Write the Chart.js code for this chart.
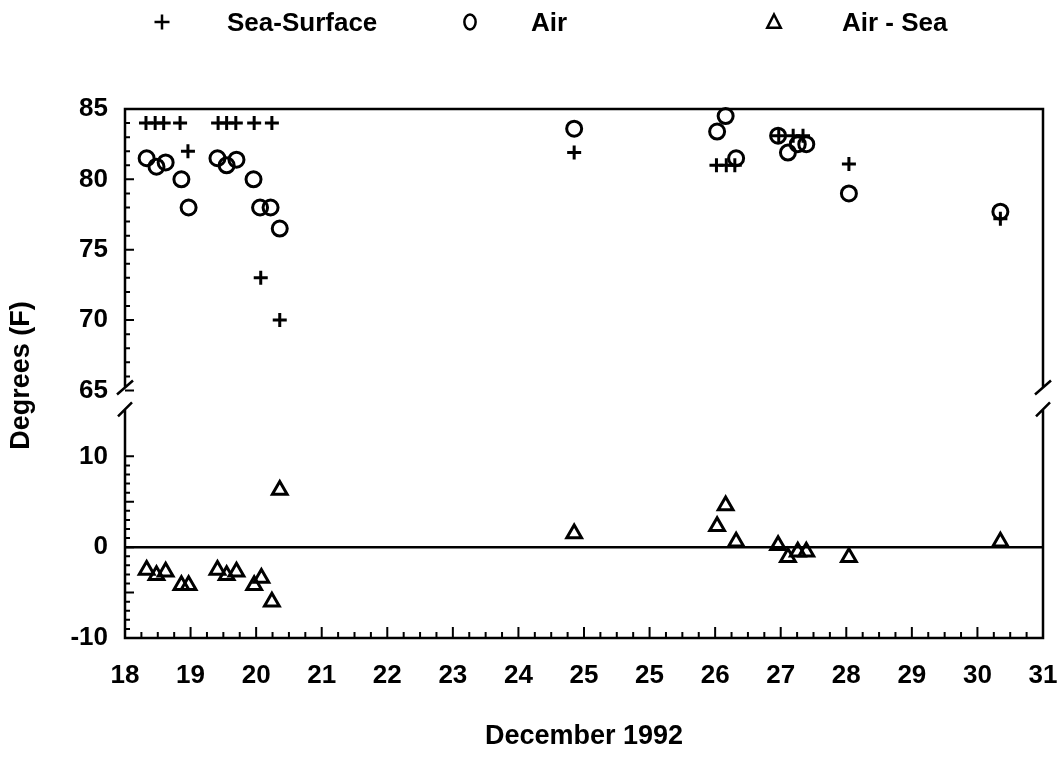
<!DOCTYPE html>
<html>
<head>
<meta charset="utf-8">
<title>Sea-Surface and Air Temperature, December 1992</title>
<script src="https://cdn.jsdelivr.net/npm/chart.js@4.4.1/dist/chart.umd.min.js"></script>
<style>
  html, body { margin: 0; padding: 0; background: #fff; }
  canvas { display: block; }
</style>
</head>
<body>
<canvas id="grafico" width="1058" height="758"></canvas>
<script>
// printed x labels (the original axis really shows "25" twice)
var xLabels = ['18', '19', '20', '21', '22', '23', '24', '25', '25', '26', '27', '28', '29', '30', '31'];
var upperTicks = [65, 70, 75, 80, 85];
var lowerTicks = [-10, -5, 0, 5, 10];

// x = position along the printed axis (0 = "18", 1 = "19", ...)
var seaX = [0.32, 0.46, 0.59, 0.84, 0.96, 1.42, 1.55, 1.69, 1.97, 2.07, 2.24, 2.36, 6.85, 9.02, 9.17, 9.30, 9.97, 10.19, 10.34, 11.04, 13.35];
var seaY = [84, 84, 84, 84, 82, 84, 84, 84, 84, 73, 84, 70, 81.9, 81, 81, 81, 83.1, 83.1, 83.1, 81.1, 77.2];

var airX = [0.33, 0.48, 0.62, 0.86, 0.97, 1.41, 1.55, 1.70, 1.96, 2.06, 2.22, 2.36, 6.85, 9.03, 9.16, 9.32, 9.96, 10.11, 10.26, 10.39, 11.04, 13.35];
var airY = [81.5, 80.9, 81.2, 80.0, 78.0, 81.5, 81.0, 81.4, 80.0, 78.0, 78.0, 76.5, 83.6, 83.4, 84.5, 81.5, 83.1, 81.9, 82.5, 82.5, 79.0, 77.7];

var diffX = [0.33, 0.48, 0.62, 0.86, 0.97, 1.41, 1.55, 1.70, 1.97, 2.08, 2.24, 2.36, 6.85, 9.03, 9.16, 9.32, 9.96, 10.11, 10.26, 10.39, 11.04, 13.35];
var diffY = [-2.5, -3.1, -2.7, -4.2, -4.2, -2.5, -3.1, -2.7, -4.2, -3.4, -6.0, 6.3, 1.5, 2.3, 4.6, 0.6, 0.2, -1.1, -0.5, -0.5, -1.1, 0.6];

function pares(xs, ys) {
    var out = [];
    for (var i = 0; i < xs.length; i++) out.push({ x: xs[i], y: ys[i] });
    return out;
}

// little hand drawn markers for the legend row
function marca(ctx, estilo, x, y, r) {
    ctx.beginPath();
    if (estilo === 'cross') {
        ctx.moveTo(x - r, y); ctx.lineTo(x + r, y);
        ctx.moveTo(x, y - r); ctx.lineTo(x, y + r);
    } else if (estilo === 'circle') {
        ctx.ellipse(x, y, r * 0.75, r, 0, 0, Math.PI * 2);
    } else {
        ctx.moveTo(x, y - r);
        ctx.lineTo(x + r * 0.9, y + r * 0.75);
        ctx.lineTo(x - r * 0.9, y + r * 0.75);
        ctx.closePath();
    }
    ctx.stroke();
}

var leyenda = [
    { texto: 'Sea-Surface', estilo: 'cross', xm: 162, xt: 227 },
    { texto: 'Air', estilo: 'circle', xm: 470, xt: 531 },
    { texto: 'Air - Sea', estilo: 'triangle', xm: 774, xt: 842 }
];

var marco = {
    id: 'marco',
    beforeDatasetsDraw: function (chart) {
        var ctx = chart.ctx, a = chart.chartArea;
        var sx = chart.scales.x, yt = chart.scales.yTop, yb = chart.scales.yLow;
        var corte1 = yt.getPixelForValue(65) - 3;
        var corte2 = corte1 + 22;
        ctx.save();
        ctx.strokeStyle = '#000';
        ctx.lineWidth = 2.5;
        ctx.beginPath();
        ctx.moveTo(a.left, corte1); ctx.lineTo(a.left, a.top);
        ctx.lineTo(a.right, a.top); ctx.lineTo(a.right, corte1);
        ctx.moveTo(a.left, corte2); ctx.lineTo(a.left, a.bottom);
        ctx.lineTo(a.right, a.bottom); ctx.lineTo(a.right, corte2);
        [a.left, a.right].forEach(function (px) {
            ctx.moveTo(px - 8, corte1 + 7); ctx.lineTo(px + 8, corte1 - 7);
            ctx.moveTo(px - 7, corte2 + 7); ctx.lineTo(px + 7, corte2 - 7);
        });
        var y0 = yb.getPixelForValue(0);
        ctx.moveTo(a.left, y0); ctx.lineTo(a.right, y0);
        ctx.stroke();

        // inward tick marks
        ctx.lineWidth = 2;
        ctx.beginPath();
        var v, p;
        for (v = 65; v <= 85; v++) {
            p = yt.getPixelForValue(v);
            ctx.moveTo(a.left, p); ctx.lineTo(a.left + (v % 5 === 0 ? 9 : 5), p);
        }
        for (v = -10; v <= 10; v++) {
            p = yb.getPixelForValue(v);
            ctx.moveTo(a.left, p); ctx.lineTo(a.left + (v % 5 === 0 ? 9 : 5), p);
        }
        for (v = 0; v <= (xLabels.length - 1) * 4; v++) {
            p = sx.getPixelForValue(v / 4);
            ctx.moveTo(p, a.bottom); ctx.lineTo(p, a.bottom - (v % 4 === 0 ? 11 : 6));
        }
        ctx.stroke();
        ctx.restore();
    },
    afterDraw: function (chart) {
        var ctx = chart.ctx, a = chart.chartArea;
        ctx.save();
        ctx.fillStyle = '#000';
        ctx.strokeStyle = '#000';
        ctx.lineWidth = 2.5;
        ctx.font = 'bold 26px "Liberation Sans", Arial, sans-serif';
        ctx.textBaseline = 'middle';
        ctx.textAlign = 'left';
        leyenda.forEach(function (it) {
            marca(ctx, it.estilo, it.xm, 22, 7.5);
            ctx.fillText(it.texto, it.xt, 24);
        });
        // y axis title
        ctx.translate(22, (a.top + a.bottom) / 2 + 2);
        ctx.rotate(-Math.PI / 2);
        ctx.textAlign = 'center';
        ctx.font = 'bold 27px "Liberation Sans", Arial, sans-serif';
        ctx.fillText('Degrees (F)', 0, 0);
        ctx.restore();
    }
};

Chart.defaults.font.family = '"Liberation Sans", Arial, sans-serif';
Chart.defaults.font.size = 26;
Chart.defaults.font.weight = 'bold';
Chart.defaults.color = '#000';

graficar();
function graficar() {
    var ctx = document.getElementById('grafico').getContext('2d');
    var puntos = { showLine: false, pointBorderColor: '#000', pointBackgroundColor: 'rgba(0,0,0,0)', pointBorderWidth: 3, clip: false };
    var miGrafico = new Chart(ctx, {
        type: 'scatter',
        data: {
            datasets: [
                Object.assign({ label: 'Sea-Surface', data: pares(seaX, seaY), yAxisID: 'yTop', pointStyle: 'cross', pointRadius: 7 }, puntos),
                Object.assign({ label: 'Air', data: pares(airX, airY), yAxisID: 'yTop', pointStyle: 'circle', pointRadius: 7.5 }, puntos),
                Object.assign({ label: 'Air - Sea', data: pares(diffX, diffY), yAxisID: 'yLow', pointStyle: 'triangle', pointRadius: 8.5 }, puntos)
            ]
        },
        options: {
            responsive: false,
            animation: false,
            layout: { padding: { top: 109, right: 15, left: 0, bottom: 0 } },
            plugins: { legend: { display: false }, tooltip: { enabled: false } },
            scales: {
                x: {
                    type: 'linear',
                    position: 'bottom',
                    min: 0,
                    max: xLabels.length - 1,
                    grid: { display: false, drawTicks: false },
                    border: { display: false },
                    ticks: {
                        stepSize: 1,
                        autoSkip: false,
                        maxRotation: 0,
                        padding: 22,
                        callback: function (v) { return xLabels[v]; }
                    },
                    title: { display: true, text: 'December 1992', font: { size: 27, weight: 'bold' }, padding: { top: 0, bottom: 5 } },
                    afterFit: function (s) { s.height = 120; s.paddingLeft = 0; s.paddingRight = 0; }
                },
                yTop: {
                    type: 'linear',
                    position: 'left',
                    stack: 'grados',
                    stackWeight: 311,
                    weight: 2,
                    min: 62.9,
                    max: 85,
                    grid: { display: false, drawTicks: false },
                    border: { display: false },
                    ticks: { padding: 17 },
                    afterBuildTicks: function (s) { s.ticks = upperTicks.map(function (v) { return { value: v }; }); },
                    afterFit: function (s) { s.width = 125; s.paddingTop = 0; s.paddingBottom = 0; }
                },
                yLow: {
                    type: 'linear',
                    position: 'left',
                    stack: 'grados',
                    stackWeight: 218,
                    weight: 1,
                    min: -10,
                    max: 14,
                    grid: { display: false, drawTicks: false },
                    border: { display: false },
                    ticks: { padding: 17 },
                    afterBuildTicks: function (s) { s.ticks = lowerTicks.map(function (v) { return { value: v }; }); },
                    afterFit: function (s) { s.width = 125; s.paddingTop = 0; s.paddingBottom = 0; }
                }
            }
        },
        plugins: [marco]
    });
}
</script>
</body>
</html>
